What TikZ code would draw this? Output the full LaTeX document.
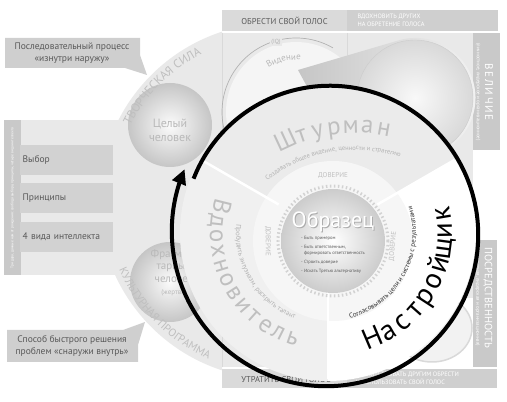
\documentclass[tikz,border=0pt]{standalone}
\usepackage{fontspec}
\setmainfont{PT Sans}
\usetikzlibrary{calc,positioning,backgrounds,decorations.text,arrows.meta}
\newcommand{\fsz}[1]{\fontsize{#1}{#1}\selectfont}

\begin{document}
\begin{tikzpicture}[x=1pt,y=1pt]
\tikzstyle{lbox}=[fill=gray!35, anchor=north west, minimum height=30pt, text width=88pt,
                  inner xsep=2.5pt, align=left, text=gray!70!black, font=\fsz{9.5}]
\tikzstyle{callout}=[fill=gray!38]
\tikzstyle{ctxt}=[align=center, text=gray!70!black, font=\fontsize{9.5}{12.5}\selectfont]
\tikzstyle{strip}=[fill=gray!42]
\tikzstyle{vtxt}=[rotate=-90, white, inner sep=0pt]
\tikzstyle{arctxt}=[decorate, decoration={text along path, text align=center}]
\tikzstyle{dov}=[text=gray!50, font=\fsz{7}, inner sep=0pt]
\tikzstyle{ltr}=[anchor=base, inner sep=0pt]
\tikzstyle{bigltr}=[ltr, font=\fsz{25}, text=gray!50]
\useasboundingbox (0,0) rectangle (507,402);
\coordinate (L) at (277,201);
\coordinate (O) at (328,169);
\coordinate (I) at (333,161);
\coordinate (V) at (296,290);
\coordinate (S) at (355,112);

% left disk
\fill[gray!17] (4,127) rectangle (125,282);
\begin{scope}
\clip (0,0) rectangle (222,402);
\fill[gray!17] (L) circle (178);
\end{scope}

% panel and bars
\fill[gray!17] (222,35) rectangle (473,369);
\draw[gray!30] (222,35) -- (222,369) (347,369) -- (347,230);
\fill[white] (330,35) rectangle (473,104);
\fill[gray!29] (222,371) rectangle (347,392);
\fill[gray!38] (347,371) rectangle (498,392);
\fill[gray!29] (222,14) rectangle (347,33);
\fill[gray!38] (347,14) rectangle (497,33);
\node[text=gray!70!black, font=\fsz{8.5}] (obr-golos) at (284.5,381.5) {ОБРЕСТИ СВОЙ ГОЛОС};
\node[anchor=west, align=left, white, font=\fontsize{6.3}{7.5}\selectfont] (vdoh-golos) at (354,381.5) {ВДОХНОВИТЬ ДРУГИХ\\НА ОБРЕТЕНИЕ ГОЛОСА};
\node[text=gray!70!black, font=\fsz{8.5}] (utr-golos) at (286,23.5) {УТРАТИТЬ СВОЙ ГОЛОС};
\node[anchor=west, align=left, white, font=\fontsize{6.3}{7.5}\selectfont] (prep-golos) at (352,23.5) {ПРЕПЯТСТВОВАТЬ ДРУГИМ ОБРЕСТИ\\И ИСПОЛЬЗОВАТЬ СВОЙ ГОЛОС};

\fill[strip] (473,252) rectangle (500,369);
\fill[strip] (473,35) rectangle (497,162);
\node[vtxt, font=\fsz{11}] (velichie) at (489,310) {В\,Е\,Л\,И\,Ч\,И\,Е};
\node[vtxt, font=\fsz{5}] (velichie-b) at (478,310) {(личностное, лидерское и организационное)};
\node[vtxt, font=\fsz{10.5}] (posr) at (488,104) {ПОСРЕДСТВЕННОСТЬ};
\node[vtxt, font=\fsz{5}] (posr-b) at (477.5,104) {(личностная, лидерская и организационная)};

% vision disk, cone, lower ellipse
\fill[gray!8] (V) circle (70);
\draw[gray!60, line width=0.7pt] (V) ++(60:74) arc[start angle=60, end angle=200, radius=74];
\node[font=\fsz{6}, text=gray!60, fill=gray!17, inner sep=1pt] (iq) at (276,360) {(IQ)};
\path[arctxt, decoration={text={|\fsz{9}|Видение}, text color=gray!55}] (V) ++(150:52) arc[start angle=150, end angle=57, radius=52];
\shade[left color=gray!45, right color=gray!10] (298,332) -- (400,362) arc[start angle=105, end angle=-60, radius=60] -- (370,200) -- cycle;
\shade[inner color=gray!5, outer color=gray!30, draw=gray!40] (415,304) circle (58);
\filldraw[fill=gray!10, draw=gray!30, line width=1.5pt] (432,74) ellipse (40 and 34);

% spheres
\shade[inner color=gray!3, outer color=gray!45] (170,277) circle (42);
\node[font=\fontsize{12}{14}\selectfont, text=gray!55, align=center] (celyi) at (170,272) {Целый\\человек};
\shade[inner color=gray!3, outer color=gray!45] (170,120) circle (40);
\node[font=\fontsize{11}{12.5}\selectfont, text=gray!55, align=center] (fragm) at (174,129) {Фрагмен-\\тарный\\человек\\{\fsz{7}(жертва)}};
\path[arctxt, decoration={text={|\fsz{12}|ТВОРЧЕСКАЯ СИЛА}, text color=gray!50}] (L) ++(170:165) arc[start angle=170, end angle=100, radius=165];
\path[arctxt, decoration={text={|\fsz{11}|КУЛЬТУРНАЯ ПРОГРАММА}, text color=gray!50}] (L) ++(195:172) arc[start angle=195, end angle=255, radius=172];

% left boxes and callouts
\fill[strip] (4,127) rectangle (21,282);
\node[rotate=90, white, font=\fsz{3.6}] (dary) at (12.5,204) {Три дара, данные нам от рождения: свобода выбора, принципы, четыре вида интеллекта};
\node[lbox] (vybor) at (20,257) {Выбор};
\node[lbox] (princ) at (20,219) {Принципы};
\node[lbox] (intel) at (20,180) {4 вида интеллекта};
\fill[callout] (5,364) -- (140,364) -- (140,347) -- (147,327) -- (125,334) -- (5,334) -- cycle;
\node[ctxt] (process) at (72,349) {Последовательный процесс\\«изнутри наружу»};
\fill[callout] (7,72) -- (123,72) -- (145,80) -- (138,57) -- (138,40) -- (7,40) -- cycle;
\node[ctxt] (sposob) at (72,56) {Способ быстрого решения\\проблем «снаружи внутрь»};

% big circle
\fill[gray!16] (O) -- ++(30:148) arc[start angle=30, end angle=150, radius=148] -- cycle;
\fill[gray!12] (O) -- ++(150:148) arc[start angle=150, end angle=270, radius=148] -- cycle;
\fill[white] (O) -- ++(270:148) arc[start angle=270, end angle=390, radius=148] -- cycle;
\fill[gray!7] (I) circle (80);
\foreach \a in {30,150,270}{\draw[white, line width=2.5pt] ($(O)+(\a:57)$) -- ($(O)+(\a:146)$);}
\shade[inner color=white, outer color=gray!40] (I) circle (52);
\draw[gray!35, line width=3pt, dash pattern=on 1.5pt off 2.5pt] (I) circle (55);
\node[dov] (dov1) at ($(I)+(90:66)$) {ДОВЕРИЕ};
\node[dov, rotate=-90] (dov2) at ($(I)+(180:65)$) {ДОВЕРИЕ};
\node[dov, rotate=85] (dov3) at ($(I)+(-5:60)$) {ДОВЕРИЕ};
\node[font=\fsz{22}, text=gray!65] (obrazec-s) at (334,179) {Образец};
\node[font=\fsz{22}, text=white] (obrazec) at (333,180) {Образец};
\node[anchor=north west, align=left, font=\fontsize{4.6}{6}\selectfont, text=gray!70!black, inner sep=0pt] (spisok) at (301,166)
  {- Быть примером\\[3pt]- Быть ответственным,\\\hphantom{- }формировать ответственность\\[3pt]- Строить доверие\\[3pt]- Искать Третью альтернативу};

% sector words
\foreach \c [count=\n, evaluate=\n as \a using 114.9-5.85*(\n-1)] in {Ш,т,у,р,м,а,н}
  {\node[bigltr, rotate=\a-90] (sh\n) at ($(S)+(\a:157)$) {\c};}
\foreach \c [count=\n, evaluate=\n as \a using 166+7.76*(\n-1)] in {В,д,о,х,н,о,в,и,т,е,л,ь}
  {\node[bigltr, rotate=\a+90] (vd\n) at ($(O)+(\a:118)$) {\c};}
\foreach \c [count=\n, evaluate=\n as \a using -67+8.5*(\n-1)] in {Н,а,с,т,р,о,й,щ,и,к}
  {\node[ltr, font=\fsz{29}, rotate=\a+90] (na\n) at ($(O)+(\a:124)$) {\c};}
\path[arctxt, decoration={text={|\fsz{6.5}|Создавать общее видение, ценности и стратегию}, text color=gray!60}] (S) ++(140:140) arc[start angle=140, end angle=60, radius=140];
\path[arctxt, decoration={text={|\fsz{7}|Пробудить энтузиазм, раскрыть талант}, text color=gray!60}] (O) ++(150:92) arc[start angle=150, end angle=273, radius=92];
\path[arctxt, decoration={text={|\fsz{7}|Согласовывать цели и системы с результатами}, text color=black!80}] (O) ++(-92:88) arc[start angle=-92, end angle=34, radius=88];

% the loop
\draw[line width=4pt, -{Triangle[length=15pt,width=14pt]}] plot[domain=158:-204, samples=100, smooth, variable=\t]
  ({328+(145+12*(158-\t)/362)*cos(\t)}, {169+(145+12*(158-\t)/362)*sin(\t)});
\end{tikzpicture}
\end{document}
